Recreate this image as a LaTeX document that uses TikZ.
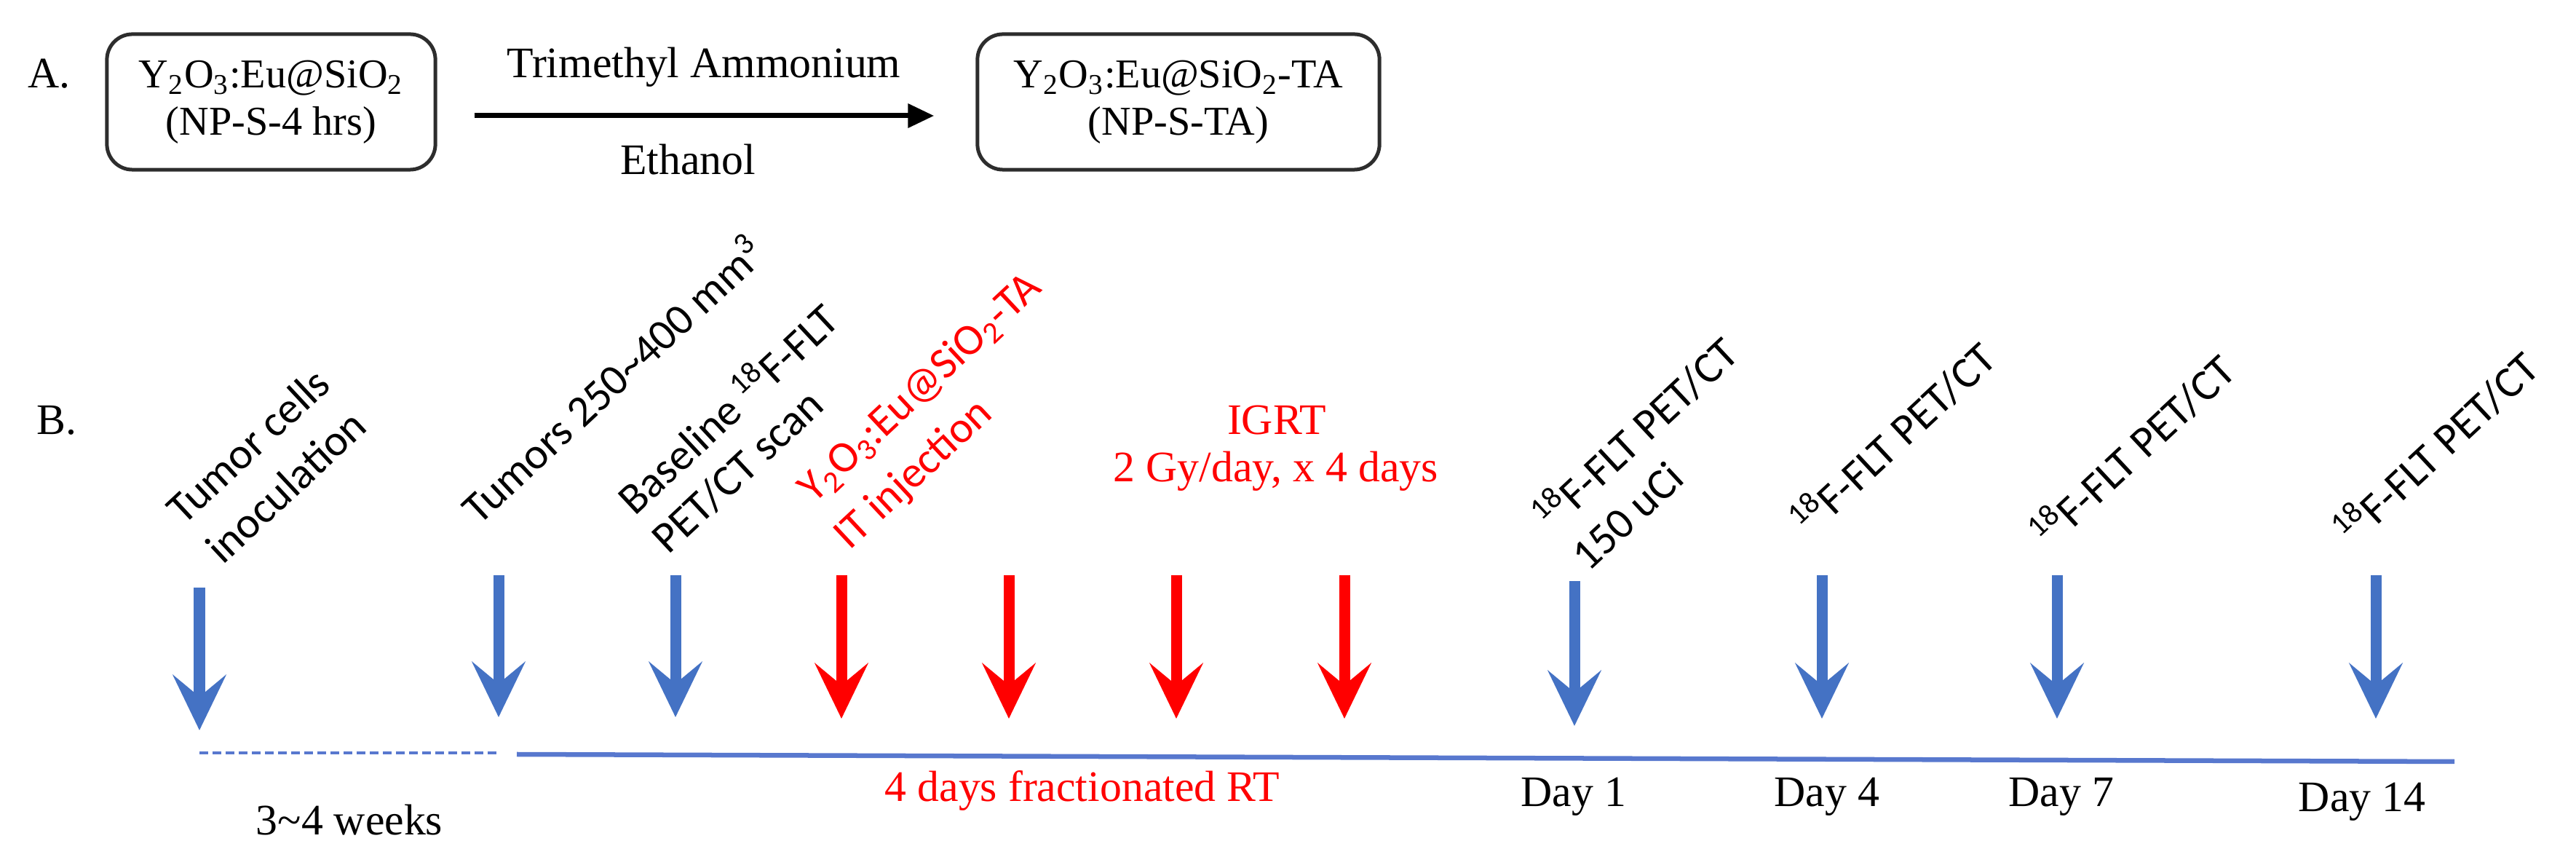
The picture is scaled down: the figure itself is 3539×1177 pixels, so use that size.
\documentclass[tikz,border=0pt]{standalone}
\usepackage{fontspec}
\setmainfont{Liberation Serif}
\newfontfamily\lblfont{Carlito}
\usetikzlibrary{arrows.meta}
\definecolor{tlblue}{RGB}{68,114,196}
\definecolor{tlred}{RGB}{255,0,0}
\definecolor{lineblue}{RGB}{88,120,206}
\definecolor{boxgray}{RGB}{45,45,45}
\begin{document}
\begin{tikzpicture}[x=0.01cm,y=-0.01cm,
  serif/.style={font=\fontsize{17}{20}\selectfont, inner sep=0, anchor=base},
  boxnode/.style={draw=boxgray, line width=0.05cm, rounded corners=0.35cm,
    minimum width=4.51cm, minimum height=1.86cm, align=center,
    font=\fontsize{16}{18.5}\selectfont, inner sep=0},
  rot/.style={font=\lblfont\fontsize{17.2}{20}\selectfont, rotate=43, anchor=base west, inner sep=0},
  evarrow/.style={line width=0.15cm, -{Stealth[length=0.76cm,width=0.73cm,inset=0.3cm]}},
]
\useasboundingbox (0,0) rectangle (3539,1177);

% ---------- Panel A ----------
\node[font=\fontsize{17}{20}\selectfont, inner sep=0, anchor=base west] (labA) at (38,121) {A.};
\node[boxnode] (box1) at (372.5,140) {Y\textsubscript{2}O\textsubscript{3}:Eu@SiO\textsubscript{2}\\(NP-S-4 hrs)};
\node[boxnode, minimum width=5.52cm] (box2) at (1619,140) {Y\textsubscript{2}O\textsubscript{3}:Eu@SiO\textsubscript{2}-TA\\(NP-S-TA)};
\draw[line width=0.07cm, -{Triangle[length=0.36cm,width=0.32cm]}]
  ([xshift=0.51cm,yshift=-0.19cm]box1.east) -- ([xshift=-0.57cm,yshift=-0.19cm]box2.west);
\node[serif] (reag) at (967,107) {Trimethyl Ammonium};
\node[serif] (solv) at (945,240) {Ethanol};

% ---------- Panel B ----------
\node[font=\fontsize{17}{20}\selectfont, inner sep=0, anchor=base west] (labB) at (50,597) {B.};

% rotated labels
\node[rot] (l1a) at (252,723) {Tumor cells};
\node[rot] (l1b) at (306,777) {inoculation};
\node[rot] (l2)  at (658,723) {Tumors 250\textasciitilde400 mm\textsuperscript{3}};
\node[rot] (l3a) at (872,710) {Baseline \textsuperscript{18}F-FLT};
\node[rot] (l3b) at (918,763) {PET/CT scan};
\node[rot, text=tlred] (l4a) at (1118,693) {Y\textsubscript{2}O\textsubscript{3}:Eu@SiO\textsubscript{2}-TA};
\node[rot, text=tlred] (l4b) at (1167,757) {IT injection};
\node[rot] (l5a) at (2132,733) {\textsuperscript{18}F-FLT PET/CT};
\node[rot] (l5b) at (2182,787) {150 uCi};
\node[rot] (l6)  at (2486,740) {\textsuperscript{18}F-FLT PET/CT};
\node[rot] (l7)  at (2815,757) {\textsuperscript{18}F-FLT PET/CT};
\node[rot] (l8)  at (3232,753) {\textsuperscript{18}F-FLT PET/CT};

% IGRT text
\node[serif, text=tlred] (igrt) at (1754,597) {IGRT};
\node[serif, text=tlred] (dose) at (1753,662) {2 Gy/day, x 4 days};

% arrows
\foreach \n/\x/\t/\b/\c in {a1/274/807/1003/tlblue, a2/685/790/985/tlblue, a3/928/790/985/tlblue,
  a4/1156/790/987/tlred, a5/1386/790/987/tlred, a6/1616/790/987/tlred, a7/1847/790/987/tlred,
  a8/2163/798/997/tlblue, a9/2503/790/987/tlblue, a10/2826/790/987/tlblue, a11/3264/790/987/tlblue}{
  \coordinate (\n top) at (\x,\t);
  \coordinate (\n tip) at (\x,\b);
  \draw[evarrow, draw=\c, fill=\c] (\n top) -- (\n tip);
}

% timeline
\coordinate (dS) at (274,1034);
\coordinate (dE) at (685,1034);
\coordinate (sS) at (710,1036);
\coordinate (sE) at (3372,1046);
\draw[lineblue, line width=0.045cm, dash pattern=on 0.12cm off 0.06cm] (dS) -- (dE);
\draw[lineblue, line width=0.065cm] (sS) -- (sE);

% bottom labels
\node[serif] (wk) at (480,1147) {3\textasciitilde4 weeks};
\node[serif, text=tlred] (frac) at (1487,1101) {4 days fractionated RT};
\node[serif] (d1) at (2162,1108) {Day 1};
\node[serif] (d4) at (2510,1108) {Day 4};
\node[serif] (d7) at (2832,1108) {Day 7};
\node[serif] (d14) at (3245,1115) {Day 14};
\end{tikzpicture}
\end{document}
